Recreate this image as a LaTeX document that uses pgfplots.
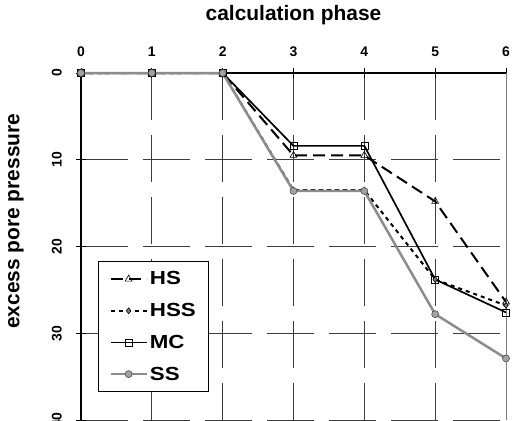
\documentclass[border=0pt]{standalone}
\usepackage{fontspec}
\setmainfont{Liberation Sans}
\newfontfamily\legfont{Liberation Sans}[FakeStretch=1.18]
\usepackage{pgfplots}
\pgfplotsset{compat=1.18}

\definecolor{ssgray}{RGB}{140,140,140}
\definecolor{gridc}{RGB}{60,60,60}

\begin{document}
\begin{tikzpicture}
\begin{axis}[
    scale only axis,
    width=425bp, height=347bp,
    xmin=0, xmax=6, ymin=0, ymax=40,
    y dir=reverse,
    xtick={0,...,6}, ytick={0,10,20,30,40},
    /pgf/number format/assume math mode=true,
    axis x line*=top, axis y line*=left,
    axis line style={-, line width=1.5bp},
    tick align=center,
    major tick length=10bp,
    tick style={black, line width=0.8bp},
    grid=major,
    major grid style={gridc, line width=0.7bp, dash pattern=on 47bp off 15bp},
    tick label style={font=\fontsize{14}{14}\selectfont\bfseries},
    xticklabel style={inner sep=0pt, anchor=south},
    xticklabel shift=11bp,
    yticklabel style={rotate=90, anchor=south, inner sep=0pt},
    yticklabel shift=14bp,
    clip=false,
    legend cell align=left,
    legend style={at={(axis description cs:0.04,0.081)}, anchor=south west,
        draw=black, line width=0.8bp,
        font=\legfont\fontsize{19}{19}\selectfont\bfseries,
        row sep=13bp, inner xsep=11bp, inner ysep=8bp},
    legend image code/.code={\draw[mark repeat=2,mark phase=2,#1]
        plot coordinates {(0bp,0bp) (18bp,0bp) (36bp,0bp)};},
]
\addplot[black, line width=2bp, dash pattern=on 12bp off 6bp,
    mark=triangle, mark size=4bp, mark options={solid, fill=white, line width=0.6bp}]
    coordinates {(0,0) (1,0) (2,0) (3,9.5) (4,9.5) (5,14.8) (6,26.4)};
\addlegendentry{HS}
\addplot[black, line width=2bp, dash pattern=on 4bp off 4bp,
    mark=diamond*, mark size=3bp, mark options={solid, fill=gray, draw=black, line width=0.6bp}]
    coordinates {(0,0) (1,0) (2,0) (3,13.5) (4,13.5) (5,23.8) (6,26.8)};
\addlegendentry{HSS}
\addplot[black, line width=1.7bp,
    mark=square, mark size=3.5bp, mark options={solid, fill=white, line width=0.6bp}]
    coordinates {(0,0) (1,0) (2,0) (3,8.4) (4,8.4) (5,23.8) (6,27.6)};
\addlegendentry{MC}
\addplot[ssgray, line width=2.5bp,
    mark=*, mark size=3.5bp, mark options={solid, fill=ssgray!80, draw=black!70, line width=0.6bp}]
    coordinates {(0,0) (1,0) (2,0) (3,13.6) (4,13.6) (5,27.8) (6,32.9)};
\addlegendentry{SS}
\draw[gray, line width=0.8bp] (axis description cs:1,0) -- (axis description cs:1,1);
\node[font=\fontsize{21}{21}\selectfont\bfseries] at ([yshift=58bp]axis description cs:0.5,1) {calculation phase};
\node[font=\fontsize{21}{21}\selectfont\bfseries, rotate=90] at ([xshift=-65bp]axis description cs:0,0.573) {excess pore pressure};
\coordinate (SW) at (axis description cs:0,0);
\end{axis}
\pgfresetboundingbox
\path ([shift={(-81bp,-1bp)}]SW) rectangle ([shift={(432bp,420bp)}]SW);
\end{tikzpicture}
\end{document}
